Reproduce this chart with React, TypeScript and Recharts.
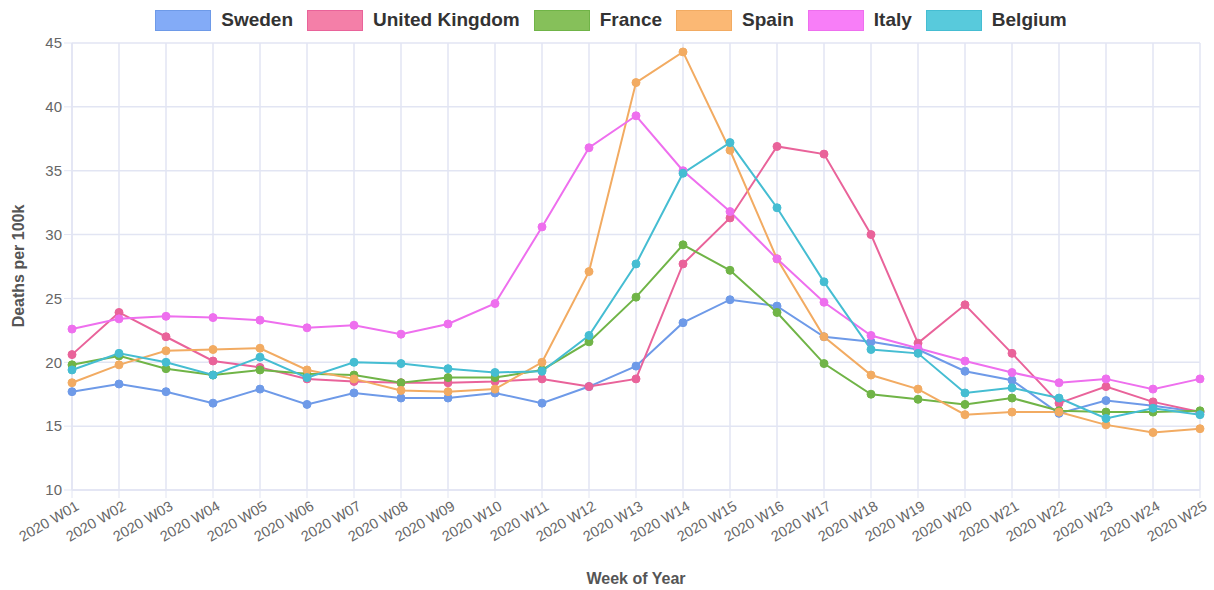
import { CartesianGrid, Label, Line, LineChart, XAxis, YAxis } from 'recharts';

const WEEKS = [
  '2020 W01', '2020 W02', '2020 W03', '2020 W04', '2020 W05', '2020 W06', '2020 W07', '2020 W08',
  '2020 W09', '2020 W10', '2020 W11', '2020 W12', '2020 W13', '2020 W14', '2020 W15', '2020 W16',
  '2020 W17', '2020 W18', '2020 W19', '2020 W20', '2020 W21', '2020 W22', '2020 W23', '2020 W24', '2020 W25',
];

const SWEDEN = [17.7, 18.3, 17.7, 16.8, 17.9, 16.7, 17.6, 17.2, 17.2, 17.6, 16.8, 18.1, 19.7, 23.1, 24.9, 24.4, 22.0, 21.6, 21.0, 19.3, 18.6, 16.0, 17.0, 16.6, 16.1];
const UK = [20.6, 23.9, 22.0, 20.1, 19.6, 18.7, 18.5, 18.4, 18.4, 18.5, 18.7, 18.1, 18.7, 27.7, 31.3, 36.9, 36.3, 30.0, 21.5, 24.5, 20.7, 16.8, 18.1, 16.9, 16.1];
const FRANCE = [19.8, 20.5, 19.5, 19.0, 19.4, 19.1, 19.0, 18.4, 18.8, 18.8, 19.4, 21.6, 25.1, 29.2, 27.2, 23.9, 19.9, 17.5, 17.1, 16.7, 17.2, 16.2, 16.1, 16.1, 16.2];
const SPAIN = [18.4, 19.8, 20.9, 21.0, 21.1, 19.4, 18.7, 17.8, 17.7, 17.9, 20.0, 27.1, 41.9, 44.3, 36.6, 28.1, 22.0, 19.0, 17.9, 15.9, 16.1, 16.1, 15.1, 14.5, 14.8];
const ITALY = [22.6, 23.4, 23.6, 23.5, 23.3, 22.7, 22.9, 22.2, 23.0, 24.6, 30.6, 36.8, 39.3, 35.0, 31.8, 28.1, 24.7, 22.1, 21.1, 20.1, 19.2, 18.4, 18.7, 17.9, 18.7];
const BELGIUM = [19.4, 20.7, 20.0, 19.0, 20.4, 18.8, 20.0, 19.9, 19.5, 19.2, 19.3, 22.1, 27.7, 34.8, 37.2, 32.1, 26.3, 21.0, 20.7, 17.6, 18.0, 17.2, 15.6, 16.4, 15.9];

const Y_TICKS = [10, 15, 20, 25, 30, 35, 40, 45];

const SERIES = [
  { key: 'Sweden', values: SWEDEN, line: '#6e9ae8', fill: '#83abf7' },
  { key: 'United Kingdom', values: UK, line: '#e9639a', fill: '#f47fa8' },
  { key: 'France', values: FRANCE, line: '#70b447', fill: '#86c05a' },
  { key: 'Spain', values: SPAIN, line: '#f2ab62', fill: '#fbb874' },
  { key: 'Italy', values: ITALY, line: '#ee6fee', fill: '#f87ef8' },
  { key: 'Belgium', values: BELGIUM, line: '#45bdd2', fill: '#58cadc' },
];

const data = WEEKS.map((week, i) => {
  const row: Record<string, string | number> = { week };
  SERIES.forEach((s) => {
    row[s.key] = s.values[i];
  });
  return row;
});

const FONT = "'Liberation Sans', Arial, Helvetica, sans-serif";
const GRID = '#e2e5f3';

function WeekTick(props: any) {
  const { x, y, payload } = props;
  const tx = x + 8;
  const ty = y + 9;
  return (
    <text
      x={tx}
      y={ty}
      textAnchor="end"
      fill="#666"
      fontSize={14.5}
      fontFamily={FONT}
      transform={`rotate(-30, ${tx}, ${ty})`}
    >
      {payload.value}
    </text>
  );
}

function LegendBoxes() {
  return (
    <div
      style={{
        position: 'absolute',
        top: 9,
        left: 4,
        width: 1214,
        display: 'flex',
        justifyContent: 'center',
        alignItems: 'center',
        fontFamily: FONT,
      }}
    >
      {SERIES.map((s) => (
        <div key={s.key} style={{ display: 'flex', alignItems: 'center', margin: '0 7px' }}>
          <div
            style={{
              width: 54,
              height: 19,
              background: s.fill,
              border: `1px solid ${s.line}`,
              marginRight: 10,
            }}
          />
          <span style={{ fontSize: 19, fontWeight: 700, color: '#333' }}>{s.key}</span>
        </div>
      ))}
    </div>
  );
}

export default function App() {
  return (
    <div style={{ position: 'absolute', left: 0, top: 0, width: 1214, height: 590, background: '#fff' }}>
      <LineChart width={1214} height={590} data={data} margin={{ top: 43, right: 14, bottom: 0, left: 0 }}>
        <CartesianGrid stroke={GRID} strokeWidth={1.5} />
        <XAxis
          dataKey="week"
          interval={0}
          tick={<WeekTick />}
          tickLine={{ stroke: GRID }}
          tickSize={8}
          axisLine={{ stroke: GRID, strokeWidth: 1.5 }}
          height={100}
        >
          <Label
            content={() => (
              <text x={636} y={584} textAnchor="middle" fill="#555" fontSize={16} fontWeight={700} fontFamily={FONT}>
                Week of Year
              </text>
            )}
          />
        </XAxis>
        <YAxis
          domain={[10, 45]}
          ticks={Y_TICKS}
          width={72}
          tick={{ fill: '#666', fontSize: 15, fontFamily: FONT }}
          tickLine={{ stroke: GRID }}
          tickSize={8}
          axisLine={{ stroke: GRID, strokeWidth: 1.5 }}
        >
          <Label
            content={() => (
              <text
                x={24}
                y={266}
                textAnchor="middle"
                fill="#555"
                fontSize={16}
                fontWeight={700}
                fontFamily={FONT}
                transform="rotate(-90, 24, 266)"
              >
                Deaths per 100k
              </text>
            )}
          />
        </YAxis>
        {SERIES.map((s) => (
          <Line
            key={s.key}
            dataKey={s.key}
            type="linear"
            stroke={s.line}
            strokeWidth={2}
            dot={{ r: 4, fill: s.line, stroke: s.line, strokeWidth: 1 }}
            isAnimationActive={false}
          />
        ))}
      </LineChart>
      <LegendBoxes />
    </div>
  );
}
